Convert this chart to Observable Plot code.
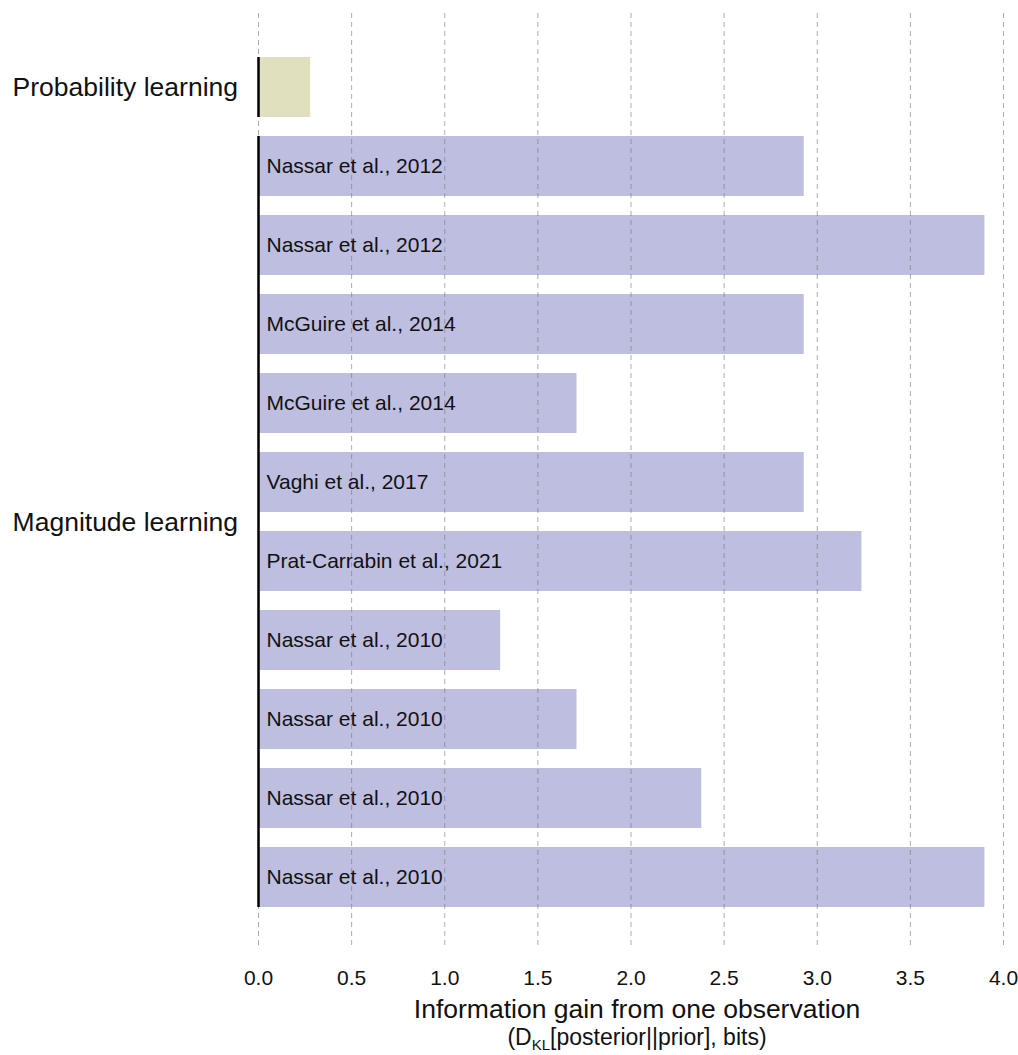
<!DOCTYPE html>
<html>
<head>
<meta charset="utf-8">
<script src="https://cdn.jsdelivr.net/npm/d3@7"></script>
<script src="https://cdn.jsdelivr.net/npm/@observablehq/plot@0.6"></script>
<style>
  body { margin: 0; background: #fff; }
  #chart svg { display: block; overflow: visible; }
</style>
</head>
<body>
<div id="chart"></div>
<script>
// One row per experiment, top to bottom
const rowIds = [0, 1, 2, 3, 4, 5, 6, 7, 8, 9, 10];
const taskGroups = [
  "Probability learning",
  "Magnitude learning", "Magnitude learning", "Magnitude learning", "Magnitude learning", "Magnitude learning",
  "Magnitude learning", "Magnitude learning", "Magnitude learning", "Magnitude learning", "Magnitude learning"
];
const studies = [
  "",
  "Nassar et al., 2012",
  "Nassar et al., 2012",
  "McGuire et al., 2014",
  "McGuire et al., 2014",
  "Vaghi et al., 2017",
  "Prat-Carrabin et al., 2021",
  "Nassar et al., 2010",
  "Nassar et al., 2010",
  "Nassar et al., 2010",
  "Nassar et al., 2010"
];
// Information gain per observation, bits
const gains = [0.28, 2.93, 3.90, 2.93, 1.71, 2.93, 3.24, 1.30, 1.71, 2.38, 3.90];
const groupNames = ["Probability learning", "Magnitude learning"];
const groupColors = ["#e0e0be", "#bebee0"];
const xTicks = [0, 0.5, 1, 1.5, 2, 2.5, 3, 3.5, 4];

const rows = rowIds.map((id, i) => ({id, group: taskGroups[i], study: studies[i], gain: gains[i]}));
const spans = groupNames.map(g => {
  const r = rows.filter(d => d.group === g);
  return {group: g, first: r[0].id, last: r[r.length - 1].id};
});

const font = "'Liberation Sans', Arial, Helvetica, sans-serif";

const chart = Plot.plot({
  width: 1018,
  height: 1055,
  marginTop: 13,
  marginBottom: 107,
  marginLeft: 258,
  marginRight: 15,
  style: {fontFamily: font, background: "#fff", color: "#111"},
  x: {domain: [0, 4], ticks: xTicks, label: null},
  y: {type: "band", domain: rowIds, range: [57, 908], paddingInner: 0.24, paddingOuter: 0, axis: null},
  color: {domain: groupNames, range: groupColors},
  marks: [
    Plot.barX(rows, {x: "gain", y: "id", fill: "group"}),
    Plot.gridX(xTicks, {stroke: "#777", strokeOpacity: 0.6, strokeWidth: 1, strokeDasharray: "5,4"}),
    Plot.ruleX(spans, {x: 0, y1: "first", y2: "last", stroke: "#000", strokeWidth: 2.5}),
    Plot.text(rows, {x: 0, y: "id", text: "study", dx: 8, textAnchor: "start", fontSize: 21, fill: "#111"}),
    Plot.axisX(xTicks, {tickSize: 0, tickPadding: 22, fontSize: 21, tickFormat: d3.format(".1f"), fill: "#111"})
  ]
});

document.getElementById("chart").appendChild(chart);

// Group labels to the left of the bars, centred on each group's rows
const xs = chart.scale("x");
const ys = chart.scale("y");
const svg = d3.select(chart);
spans.forEach(s => {
  const top = ys.apply(s.first);
  const bottom = ys.apply(s.last) + ys.bandwidth;
  svg.append("text")
    .attr("x", xs.apply(0) - 20)
    .attr("y", (top + bottom) / 2)
    .attr("dy", "0.34em")
    .attr("text-anchor", "end")
    .attr("font-family", font)
    .attr("font-size", 26.5)
    .attr("fill", "#111")
    .text(s.group);
});

// Axis title with subscripted divergence label
const cx = 637;
svg.append("text")
  .attr("x", cx).attr("y", 1018)
  .attr("text-anchor", "middle")
  .attr("font-family", font).attr("font-size", 26.5).attr("fill", "#111")
  .text("Information gain from one observation");
const sub = svg.append("text")
  .attr("x", cx).attr("y", 1045)
  .attr("text-anchor", "middle")
  .attr("font-family", font).attr("font-size", 23).attr("fill", "#111");
sub.append("tspan").text("(D");
sub.append("tspan").attr("dy", 5).attr("font-size", 15).text("KL");
sub.append("tspan").attr("dy", -5).text("[posterior||prior], bits)");
</script>
</body>
</html>
